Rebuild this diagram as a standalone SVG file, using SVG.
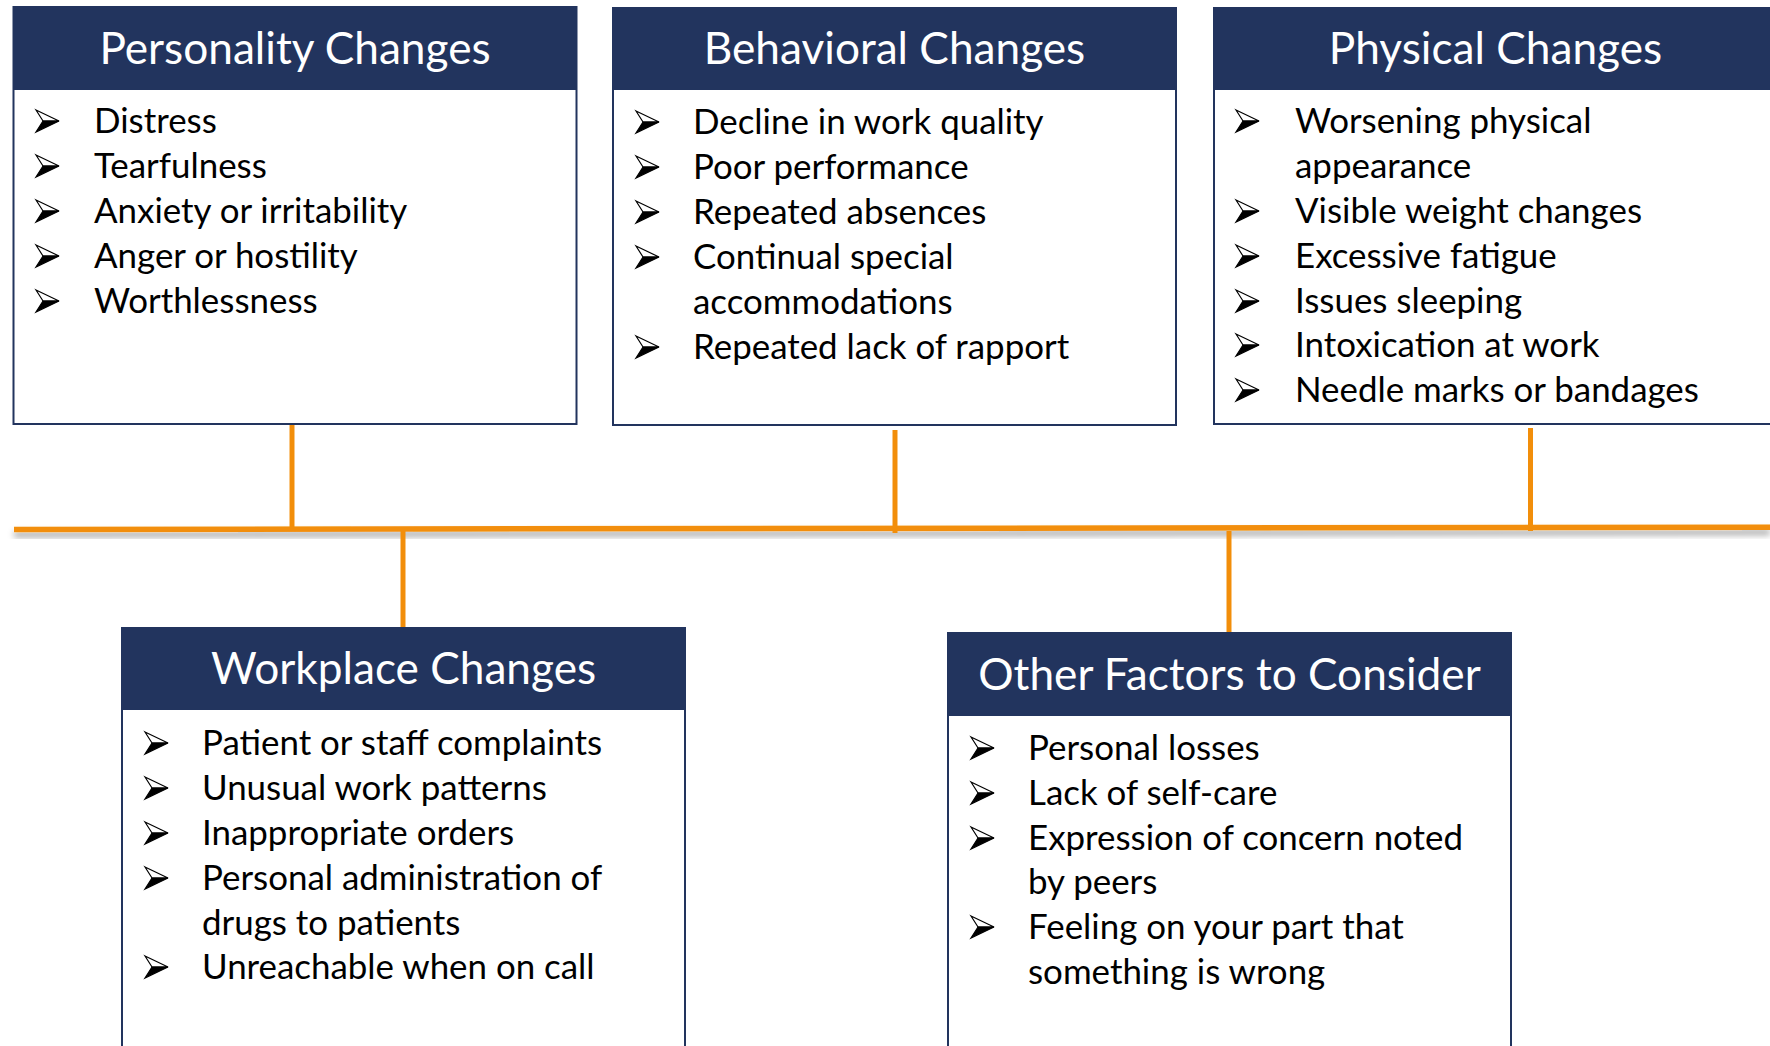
<svg xmlns="http://www.w3.org/2000/svg" xmlns:xlink="http://www.w3.org/1999/xlink" width="1770" height="1046" viewBox="0 0 1770 1046">
  <style>
    .box { fill: #ffffff; stroke: #22345e; stroke-width: 2; }
    .head { fill: #22345e; }
    .title { font-family: Lato, "Liberation Sans", sans-serif; font-size: 44.2px; fill: #ffffff; text-anchor: middle; }
    .item { font-family: Lato, "Liberation Sans", sans-serif; font-size: 34.9px; fill: #000000; }
    .link { stroke: #f28e0a; stroke-width: 5; fill: none; }
    .spine { stroke: #f28e0a; stroke-width: 5.5; fill: none; }
  </style>
  <defs>
    <!-- Wingdings-style arrowhead bullet: outlined upper barb, solid lower barb -->
    <g id="bullet">
      <polygon points="0,-11 23,0 7,0" fill="#ffffff" stroke="#000000" stroke-width="1.2" stroke-linejoin="miter"/>
      <polygon points="7,0 23,0 0,11" fill="#000000" stroke="#000000" stroke-width="1.2" stroke-linejoin="miter"/>
    </g>
    <filter id="spineShadow" x="-5%" y="-300%" width="110%" height="800%">
      <feDropShadow dx="0" dy="5" stdDeviation="3" flood-color="#000000" flood-opacity="0.35"/>
    </filter>
  </defs>

  <!-- connectors -->
  <g id="connectors">
    <line class="spine" x1="14" y1="529.5" x2="1770" y2="527.2" filter="url(#spineShadow)"/>
    <line class="link" x1="292" y1="424" x2="292" y2="529"/>
    <line class="link" x1="895" y1="430" x2="895" y2="533"/>
    <line class="link" x1="1530.5" y1="428" x2="1530.5" y2="531"/>
    <line class="link" x1="403" y1="531" x2="403" y2="628"/>
    <line class="link" x1="1229" y1="531" x2="1229" y2="633"/>
  </g>

  <!-- Personality Changes -->
  <g id="personality">
    <rect class="box" x="13.5" y="7" width="563" height="417"/>
    <rect class="head" x="13.5" y="7" width="563" height="83"/>
    <text class="title" x="295" y="64">Personality Changes</text>
    <use xlink:href="#bullet" x="36" y="121"/>
    <text class="item" x="94" y="133">Distress</text>
    <use xlink:href="#bullet" x="36" y="166"/>
    <text class="item" x="94" y="178">Tearfulness</text>
    <use xlink:href="#bullet" x="36" y="211"/>
    <text class="item" x="94" y="223">Anxiety or irritability</text>
    <use xlink:href="#bullet" x="36" y="256"/>
    <text class="item" x="94" y="268">Anger or hostility</text>
    <use xlink:href="#bullet" x="36" y="301"/>
    <text class="item" x="94" y="313">Worthlessness</text>
  </g>

  <!-- Behavioral Changes -->
  <g id="behavioral">
    <rect class="box" x="613" y="8" width="563" height="417"/>
    <rect class="head" x="613" y="8" width="563" height="82"/>
    <text class="title" x="894.5" y="64">Behavioral Changes</text>
    <use xlink:href="#bullet" x="636" y="122"/>
    <text class="item" x="693" y="134">Decline in work quality</text>
    <use xlink:href="#bullet" x="636" y="167"/>
    <text class="item" x="693" y="179">Poor performance</text>
    <use xlink:href="#bullet" x="636" y="212"/>
    <text class="item" x="693" y="224">Repeated absences</text>
    <use xlink:href="#bullet" x="636" y="257"/>
    <text class="item" x="693" y="269">Continual special</text>
    <text class="item" x="693" y="314">accommodations</text>
    <use xlink:href="#bullet" x="636" y="347"/>
    <text class="item" x="693" y="359">Repeated lack of rapport</text>
  </g>

  <!-- Physical Changes -->
  <g id="physical">
    <rect class="box" x="1214" y="8" width="563" height="416"/>
    <rect class="head" x="1214" y="8" width="563" height="82"/>
    <text class="title" x="1495.5" y="64">Physical Changes</text>
    <use xlink:href="#bullet" x="1236" y="121"/>
    <text class="item" x="1295" y="133">Worsening physical</text>
    <text class="item" x="1295" y="178">appearance</text>
    <use xlink:href="#bullet" x="1236" y="211"/>
    <text class="item" x="1295" y="223">Visible weight changes</text>
    <use xlink:href="#bullet" x="1236" y="256"/>
    <text class="item" x="1295" y="268">Excessive fatigue</text>
    <use xlink:href="#bullet" x="1236" y="301"/>
    <text class="item" x="1295" y="313">Issues sleeping</text>
    <use xlink:href="#bullet" x="1236" y="345"/>
    <text class="item" x="1295" y="357">Intoxication at work</text>
    <use xlink:href="#bullet" x="1236" y="390"/>
    <text class="item" x="1295" y="402">Needle marks or bandages</text>
  </g>

  <!-- Workplace Changes -->
  <g id="workplace">
    <rect class="box" x="122" y="628" width="563" height="430"/>
    <rect class="head" x="122" y="628" width="563" height="82"/>
    <text class="title" x="403.5" y="684">Workplace Changes</text>
    <use xlink:href="#bullet" x="145" y="743"/>
    <text class="item" x="202" y="755">Patient or staff complaints</text>
    <use xlink:href="#bullet" x="145" y="788"/>
    <text class="item" x="202" y="800">Unusual work patterns</text>
    <use xlink:href="#bullet" x="145" y="833"/>
    <text class="item" x="202" y="845">Inappropriate orders</text>
    <use xlink:href="#bullet" x="145" y="878"/>
    <text class="item" x="202" y="890">Personal administration of</text>
    <text class="item" x="202" y="935">drugs to patients</text>
    <use xlink:href="#bullet" x="145" y="967"/>
    <text class="item" x="202" y="979">Unreachable when on call</text>
  </g>

  <!-- Other Factors to Consider -->
  <g id="other-factors">
    <rect class="box" x="948" y="633" width="563" height="425"/>
    <rect class="head" x="948" y="633" width="563" height="83"/>
    <text class="title" x="1229.5" y="690">Other Factors to Consider</text>
    <use xlink:href="#bullet" x="971" y="748"/>
    <text class="item" x="1028" y="760">Personal losses</text>
    <use xlink:href="#bullet" x="971" y="793"/>
    <text class="item" x="1028" y="805">Lack of self-care</text>
    <use xlink:href="#bullet" x="971" y="838"/>
    <text class="item" x="1028" y="850">Expression of concern noted</text>
    <text class="item" x="1028" y="894">by peers</text>
    <use xlink:href="#bullet" x="971" y="927"/>
    <text class="item" x="1028" y="939">Feeling on your part that</text>
    <text class="item" x="1028" y="984">something is wrong</text>
  </g>
</svg>
